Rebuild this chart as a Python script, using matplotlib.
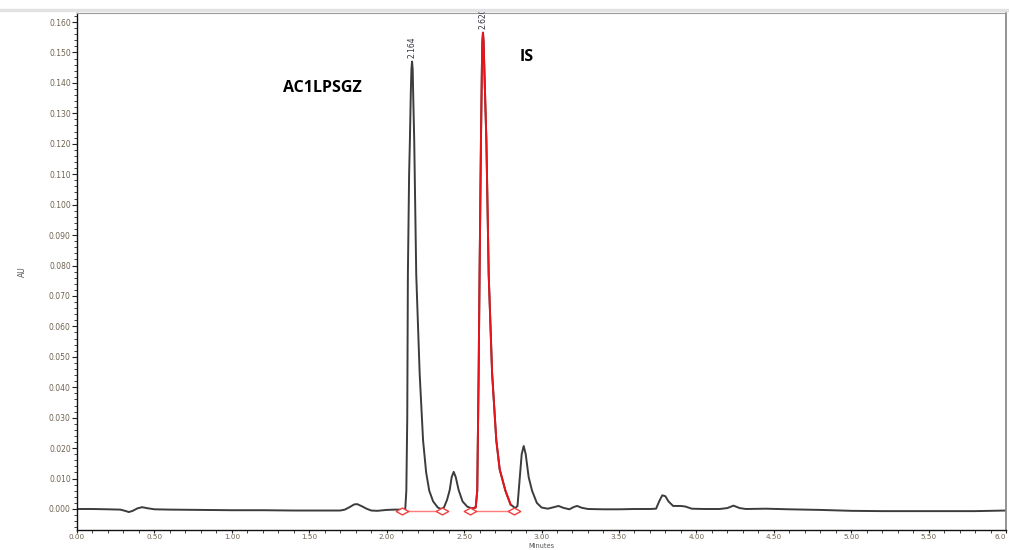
import numpy as np
import matplotlib
matplotlib.use("Agg")
import matplotlib.pyplot as plt
from matplotlib.ticker import MultipleLocator, FormatStrFormatter
from matplotlib.path import Path
from matplotlib.lines import Line2D

# ---- data (time in minutes, absorbance in AU) ----
time_min = [0.00, 0.10, 0.20, 0.28, 0.31, 0.335, 0.36, 0.39, 0.42, 0.45, 0.50, 0.60, 0.80,
            1.00, 1.20, 1.40, 1.55, 1.70, 1.73, 1.76, 1.79, 1.81, 1.84, 1.87, 1.90, 1.94,
            2.00, 2.05, 2.10, 2.12, 2.127, 2.133, 2.137, 2.145, 2.150, 2.156, 2.160, 2.164,
            2.168, 2.171, 2.178, 2.191, 2.213, 2.235, 2.255, 2.275, 2.30, 2.33, 2.35, 2.37,
            2.39, 2.407, 2.420, 2.433, 2.446, 2.465, 2.49, 2.52, 2.55, 2.575, 2.585, 2.594,
            2.600, 2.609, 2.615, 2.618, 2.622, 2.626, 2.630, 2.644, 2.659, 2.681, 2.708, 2.73,
            2.767, 2.80, 2.83, 2.845, 2.86, 2.872, 2.885, 2.898, 2.917, 2.939, 2.97, 3.00,
            3.04, 3.08, 3.11, 3.14, 3.18, 3.21, 3.23, 3.26, 3.30, 3.40, 3.50, 3.60, 3.70,
            3.74, 3.76, 3.78, 3.80, 3.82, 3.85, 3.90, 3.93, 3.97, 4.05, 4.15, 4.20, 4.24,
            4.28, 4.32, 4.45, 4.60, 4.80, 5.00, 5.20, 5.40, 5.60, 5.80, 5.90, 6.00]
absorbance = [0.0000, 0.0000, -0.0001, -0.0002, -0.0006, -0.0010, -0.0006, 0.0002, 0.0006,
              0.0003, -0.0001, -0.0002, -0.0003, -0.0004, -0.0004, -0.0005, -0.0005, -0.0005,
              -0.0002, 0.0006, 0.0015, 0.0016, 0.0009, 0.0001, -0.0005, -0.0006, -0.0003,
              -0.0002, -0.0002, -0.0001, 0.0060, 0.0300, 0.0770, 0.1100, 0.1210, 0.1370,
              0.1445, 0.1470, 0.1445, 0.1370, 0.1210, 0.0770, 0.0446, 0.0226, 0.0120, 0.0060,
              0.0025, 0.0005, 0.0000, 0.0005, 0.0030, 0.0062, 0.0105, 0.0122, 0.0105, 0.0062,
              0.0025, 0.0008, 0.0002, 0.0005, 0.0060, 0.0446, 0.0770, 0.1210, 0.1450, 0.1535,
              0.1565, 0.1535, 0.1460, 0.1210, 0.0770, 0.0446, 0.0226, 0.0130, 0.0060, 0.0015,
              0.0003, 0.0010, 0.0105, 0.0180, 0.0207, 0.0180, 0.0105, 0.0060, 0.0020, 0.0005,
              0.0001, 0.0006, 0.0010, 0.0004, -0.0001, 0.0007, 0.0010, 0.0004, 0.0000, -0.0001,
              -0.0001, 0.0000, 0.0000, 0.0001, 0.0025, 0.0045, 0.0042, 0.0025, 0.0010, 0.0010,
              0.0008, 0.0001, 0.0000, 0.0000, 0.0003, 0.0011, 0.0003, 0.0000, 0.0001, -0.0001,
              -0.0003, -0.0006, -0.0007, -0.0007, -0.0007, -0.0007, -0.0006, -0.0005]

# integrated peaks (apex labels) and integration baselines
peak_times = [2.164, 2.620]
peak_heights = [0.1470, 0.1565]
peak_labels = ["2.164", "2.620"]
baseline_start = [2.10, 2.54]
baseline_end = [2.357, 2.82]
baseline_level = [-0.0008, -0.0008]

# compound annotations
compound_names = ["AC1LPSGZ", "IS"]
compound_x = [1.33, 2.86]
compound_y = [0.1383, 0.1485]

x_ticks = [0.00, 0.50, 1.00, 1.50, 2.00, 2.50, 3.00, 3.50, 4.00, 4.50, 5.00, 5.50, 6.00]
x_tick_labels = ["0.00", "0.50", "1.00", "1.50", "2.00", "2.50", "3.00", "3.50", "4.00",
                 "4.50", "5.00", "5.50", "6.0"]
y_ticks = [0.000, 0.010, 0.020, 0.030, 0.040, 0.050, 0.060, 0.070, 0.080, 0.090, 0.100,
           0.110, 0.120, 0.130, 0.140, 0.150, 0.160]

# ---- figure ----
t = np.array(time_min)
a = np.array(absorbance)

W, H = 1009.0, 550.0
ax_left, ax_right, ax_top, ax_bottom = 77.0, 1006.0, 13.0, 530.0
fig = plt.figure(figsize=(W / 100, H / 100), dpi=100)
ax = fig.add_axes([ax_left / W, (H - ax_bottom) / H, (ax_right - ax_left) / W,
                   (ax_bottom - ax_top) / H])

ax.plot(t, a, color="#3c3c3c", lw=1.4, solid_joinstyle="round")

# IS peak drawn in red
is_mask = (t >= baseline_start[1]) & (t <= baseline_end[1])
ax.plot(t[is_mask], a[is_mask], color="#e8141b", lw=1.4, solid_joinstyle="round")

# integration baselines with flattened hollow diamonds
diamond = Path([(-1, 0), (0, 0.55), (1, 0), (0, -0.55), (-1, 0)],
               [Path.MOVETO, Path.LINETO, Path.LINETO, Path.LINETO, Path.CLOSEPOLY])
for xs, xe, yl in zip(baseline_start, baseline_end, baseline_level):
    ax.plot([xs, xe], [yl, yl], color="#ff7a7a", lw=1.0)
    ax.plot([xs, xe], [yl, yl], ls="none", marker=diamond, markersize=9,
            markerfacecolor="white", markeredgecolor="#f04040", markeredgewidth=1.0)

# apex labels
for pt, ph, pl in zip(peak_times, peak_heights, peak_labels):
    ax.text(pt, ph + 0.0012, pl, rotation=90, ha="center", va="bottom",
            fontsize=5.5, color="#333344", fontfamily="DejaVu Sans Condensed")

# compound names
for name, cx, cy in zip(compound_names, compound_x, compound_y):
    ax.text(cx, cy, name, fontsize=11.5, fontweight="bold", ha="left", va="center",
            color="black", fontfamily="Open Sans")

# scale: 0.000 at y=509 px, 0.160 at y=22 px
px_per_au = (509.0 - 22.0) / 0.160
ax.set_xlim(0.0, 6.0)
ax.set_ylim(-(ax_bottom - 509.0) / px_per_au, 0.160 + (22.0 - ax_top) / px_per_au)

ax.set_xticks(x_ticks)
ax.set_xticklabels(x_tick_labels)
ax.set_yticks(y_ticks)
ax.yaxis.set_major_formatter(FormatStrFormatter("%.3f"))
ax.xaxis.set_minor_locator(MultipleLocator(0.1))
ax.yaxis.set_minor_locator(MultipleLocator(0.002))
ax.tick_params(axis="both", which="major", direction="out", length=3.5, width=0.8,
               labelsize=5.5, colors="#222222", pad=1.0)
ax.tick_params(axis="x", which="major", length=2.5, pad=0.3, labelsize=5.2)
ax.tick_params(axis="both", which="minor", direction="out", length=2, width=0.6,
               colors="#222222")
for lab in ax.get_xticklabels() + ax.get_yticklabels():
    lab.set_color("#6e6250")
ax.get_xticklabels()[-1].set_horizontalalignment("right")

ax.spines["left"].set_color("#111111")
ax.spines["bottom"].set_color("#111111")
ax.spines["left"].set_linewidth(1.0)
ax.spines["bottom"].set_linewidth(1.0)
ax.spines["top"].set_color("#9a9a9a")
ax.spines["right"].set_color("#8a8a8a")
ax.spines["right"].set_linewidth(1.3)

ax.set_xlabel("Minutes", fontsize=4.8, color="#555555", va="top")
ax.xaxis.set_label_coords(0.5, -(542.5 - ax_bottom) / (ax_bottom - ax_top))
ax.set_ylabel("AU", fontsize=5.5, color="#555555", labelpad=16)

# light grey band at the very top of the image
fig.add_artist(Line2D([0, 1], [1 - 9.5 / H, 1 - 9.5 / H], transform=fig.transFigure,
                      color="#e2e2e2", lw=2.5))

fig.savefig("out.png", dpi=100, facecolor="white")
